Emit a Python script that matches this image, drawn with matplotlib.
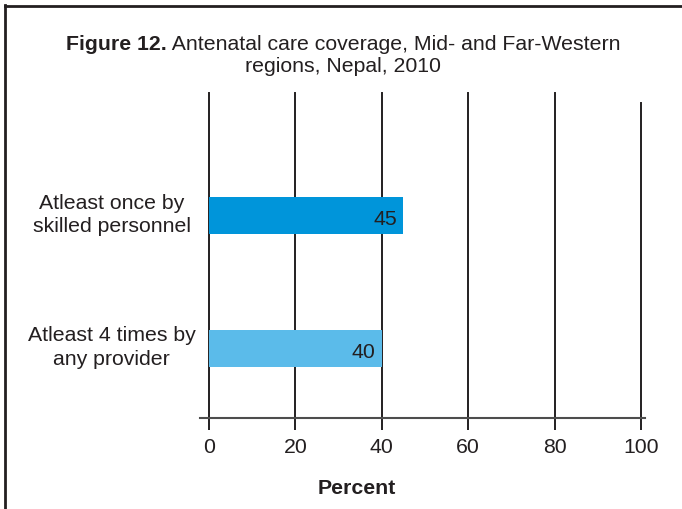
import matplotlib
matplotlib.use("Agg")
import matplotlib.pyplot as plt
from matplotlib.lines import Line2D
from matplotlib.transforms import ScaledTranslation

plt.rcParams['font.family'] = ['Liberation Sans', 'DejaVu Sans']

categories = ["Atleast 4 times by\nany provider", "Atleast once by\nskilled personnel"]
values = [40, 45]
colors = ["#5bbbea", "#0095da"]
xticks = [0, 20, 40, 60, 80, 100]

W, H = 682, 509
FS = 15.3
fig = plt.figure(figsize=(W / 100, H / 100), dpi=100)
TXT = "#231f20"

left, right, top, bottom = 209, 641, 93, 418
ax = fig.add_axes([left / W, 1 - bottom / H, (right - left) / W, (bottom - top) / H])

ypos = list(range(len(categories)))
ax.barh(ypos, values, height=0.278, color=colors, zorder=3)
for y, v in zip(ypos, values):
    ax.text(v - 1.5, y - 0.03, f"{v}", ha="right", va="center", fontsize=FS, color=TXT, zorder=4)

ax.set_xlim(0, 100)
ax.set_ylim(-0.523, 1.922)
for s in ax.spines.values():
    s.set_visible(False)

for t in xticks:
    ymax = 1.0 if t != 100 else (bottom - 103) / (bottom - top)
    ax.axvline(t, ymin=0, ymax=ymax, color="#231f20", lw=1.4, zorder=1, clip_on=False)

# horizontal axis line extending beyond the axes
ax.add_line(Line2D([(200 - left) / (right - left), (645 - left) / (right - left)], [0, 0],
                   transform=ax.transAxes, color="#4d4d4d", lw=1.5, clip_on=False))

ax.set_xticks(xticks)
ax.set_xticklabels([str(t) for t in xticks], fontsize=FS, color=TXT)
ax.tick_params(axis="x", length=8.6, width=1.4, color="#231f20", pad=5.5)
ax.set_yticks(ypos)
ax.set_yticklabels(categories, fontsize=FS, color=TXT, ha="center", multialignment="center",
                   linespacing=1.3)
ax.tick_params(axis="y", length=0, pad=70)
for lab in ax.get_yticklabels():
    lab.set_transform(lab.get_transform() + ScaledTranslation(0, 5 / 100, fig.dpi_scale_trans))

fig.text(357 / W, 1 - 489 / H, "Percent", ha="center", va="center", fontsize=FS,
         fontweight="bold", color=TXT)

# title
bold = "Figure 12."
rest = " Antenatal care coverage, Mid- and Far-Western"
tb = fig.text(0, 1 - 44 / H, bold, ha="left", va="center", fontsize=FS, fontweight="bold", color=TXT)
tr = fig.text(0, 1 - 44 / H, rest, ha="left", va="center", fontsize=FS, color=TXT)
fig.canvas.draw()
r = fig.canvas.get_renderer()
wb = tb.get_window_extent(r).width
wr = tr.get_window_extent(r).width
x0 = 343 - (wb + wr) / 2
tb.set_x(x0 / W)
tr.set_x((x0 + wb) / W)
fig.text(343 / W, 1 - 66 / H, "regions, Nepal, 2010", ha="center", va="center", fontsize=FS, color=TXT)

# frame lines
fig.add_artist(Line2D([5 / W, 5 / W], [0, 1 - 5 / H], transform=fig.transFigure, color="#231f20", lw=2))
fig.add_artist(Line2D([5 / W, 1], [1 - 6 / H, 1 - 6 / H], transform=fig.transFigure, color="#231f20", lw=2))

fig.savefig("out.png", dpi=100)
